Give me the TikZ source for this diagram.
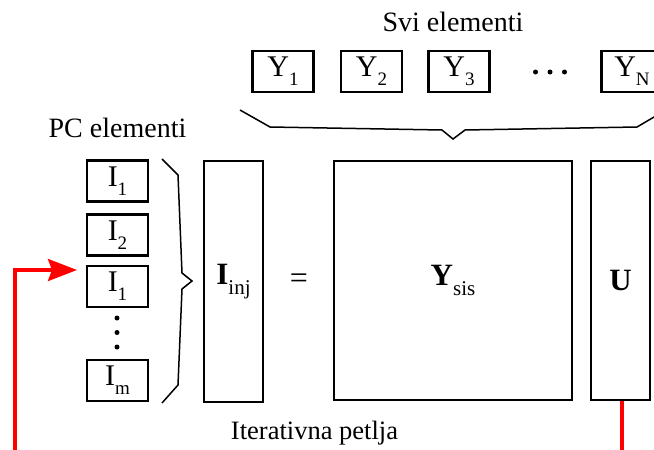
\documentclass[tikz,border=0pt]{standalone}
\usepackage{fontspec}
\setmainfont{Liberation Serif}
\usetikzlibrary{arrows.meta}
\newcommand{\lowidx}[2][19]{\raisebox{-0.3em}{\fontsize{#1}{#1}\selectfont #2}}
\begin{document}
\begin{tikzpicture}[x=1pt, y=-1pt,
  elbox/.style={draw, line width=2.4pt, inner sep=0pt, minimum width=61pt, minimum height=41pt, font=\fontsize{30}{32}\selectfont},
  bigbox/.style={draw, line width=2.4pt, inner sep=0pt, font=\fontsize{31}{33}\selectfont},
  lbl/.style={inner sep=0pt, font=\fontsize{28}{30}\selectfont},
  dot/.style={circle, fill, inner sep=0pt, minimum size=5pt},
  brace/.style={line width=1.5pt, line join=miter},
  loop/.style={red, line width=3.3pt}]
\useasboundingbox (0,0) rectangle (654,450);
\clip (0,0) rectangle (654,450);
\node[lbl] (svi) at (453,22){Svi elementi};
\node[elbox] (y1) at (283,71.5){Y\lowidx{1}};
\node[elbox] (y2) at (371.5,71.5){Y\lowidx{2}};
\node[elbox] (y3) at (459,71.5){Y\lowidx{3}};
\node[dot] (hd1) at (535.5,72){};
\node[dot] (hd2) at (550,72){};
\node[dot] (hd3) at (564.5,72){};
\node[elbox] (yn) at (632,71.5){Y\lowidx{N}};
\draw[brace] (240,110) -- (270,127) -- (442,130) -- (453,139) -- (465,130) -- (637,127) -- (666,110);
\node[lbl] (pc) at (117.5,128){PC elementi};
\node[elbox] (i1) at (117.5,181){I\lowidx{1}};
\node[elbox] (i2) at (117.5,235){I\lowidx{2}};
\node[elbox] (i1b) at (117.5,286.5){I\lowidx{1}};
\node[dot] (vd1) at (117,318){};
\node[dot] (vd2) at (117,332.5){};
\node[dot] (vd3) at (117,347){};
\node[elbox] (im) at (117.5,380.5){I\lowidx{m}};
\draw[brace] (162,159) -- (178,175) -- (182,273) -- (192,281) -- (182,289) -- (178,385) -- (162,403);
\node[bigbox, minimum width=59pt, minimum height=241pt] (iinj) at (233.5,281.5){\textbf{I}\lowidx[21]{inj}};
\node[lbl, font=\fontsize{32}{34}\selectfont] (eq) at (299,281){=};
\node[bigbox, minimum width=238pt, minimum height=239pt] (ysis) at (453,280.5){\textbf{Y}\lowidx[21]{sis}};
\node[bigbox, minimum width=59pt, minimum height=239pt] (u) at (620.5,280.5){\textbf{U}};
\node[lbl, font=\fontsize{26.5}{28}\selectfont] (petlja) at (314.5,433){Iterativna petlja};
% povratna petlja
\coordinate (loopout) at (622,452);
\coordinate (loopback) at (15,452);
\coordinate (loopin) at (77,270);
\draw[loop] (u.south -| loopout) -- (loopout);
\draw[loop, -{Stealth[length=29pt, width=22pt, inset=4pt]}] (loopback) |- (loopin);
\end{tikzpicture}
\end{document}
